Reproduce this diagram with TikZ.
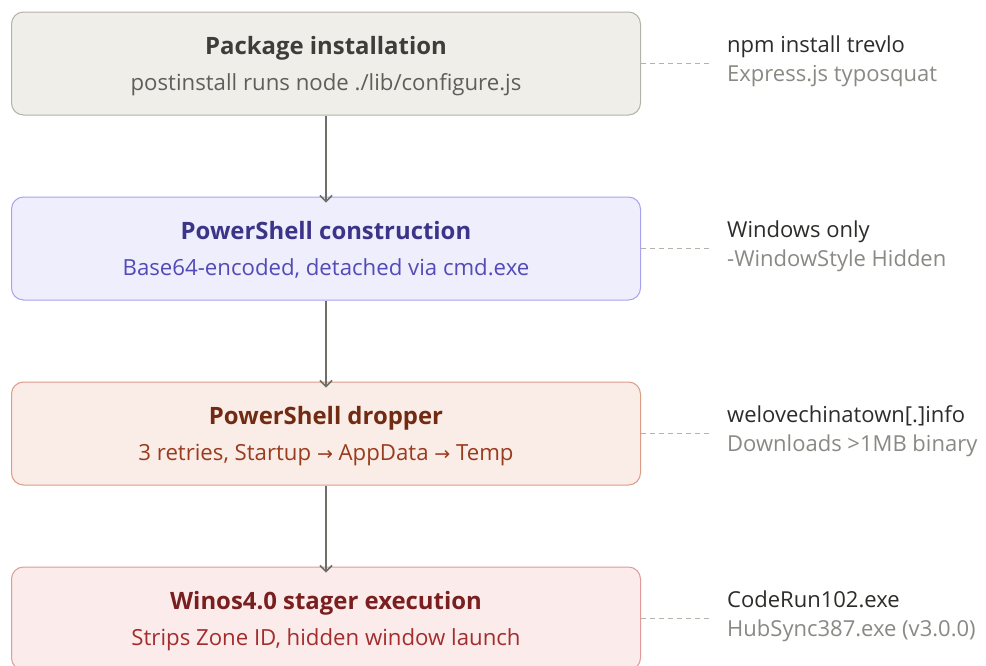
\documentclass[tikz,border=0pt]{standalone}
\usepackage{fontspec}
\setmainfont{Open Sans}
\newfontfamily\symf{DejaVu Sans}
\usetikzlibrary{arrows.meta}
\definecolor{bgA}{HTML}{F0EEE9}\definecolor{bdA}{HTML}{B4B2A9}\definecolor{tA}{HTML}{3D3D3A}\definecolor{sA}{HTML}{5F5E5A}
\definecolor{bgB}{HTML}{EEEEFC}\definecolor{bdB}{HTML}{A9A3EE}\definecolor{tB}{HTML}{3C3489}\definecolor{sB}{HTML}{534AB7}
\definecolor{bgC}{HTML}{FAECE7}\definecolor{bdC}{HTML}{DB9C88}\definecolor{tC}{HTML}{712B13}\definecolor{sC}{HTML}{993C1D}
\definecolor{bgD}{HTML}{FCEBEB}\definecolor{bdD}{HTML}{E09A9A}\definecolor{tD}{HTML}{791F1F}\definecolor{sD}{HTML}{A32D2D}
\definecolor{noteT}{HTML}{2C2C2A}\definecolor{noteS}{HTML}{8A8984}\definecolor{dashc}{HTML}{B4B2A9}\definecolor{arr}{HTML}{6F6F6A}
\newcommand{\rarr}{{\symf\fontsize{19}{20}\selectfont →}}
\tikzset{
  stagebox/.style={rectangle, rounded corners=12pt, line width=1pt, minimum width=629pt, minimum height=103pt, inner sep=0pt},
  ttl/.style={anchor=base, inner sep=0pt, font=\fontsize{23.9}{28}\selectfont\bfseries},
  sub/.style={anchor=base, inner sep=0pt, font=\fontsize{22.2}{26}\selectfont},
  noteA/.style={anchor=base west, inner sep=0pt, text=noteT, font=\fontsize{22}{26}\selectfont},
  noteB/.style={anchor=base west, inner sep=0pt, text=noteS, font=\fontsize{22}{26}\selectfont},
  flow/.style={draw=arr, line width=1.5pt, -{Straight Barb[length=6pt,width=12pt,line width=1.5pt]}},
  leader/.style={draw=dashc, line width=1pt, dash pattern=on 5pt off 4pt},
}
\begin{document}
\begin{tikzpicture}[x=1pt,y=-1pt]
\useasboundingbox[fill=white] (0,0) rectangle (986,665);
% stage boxes
\node[stagebox, fill=bgA, draw=bdA] (b1) at (326,63.5) {};
\node[stagebox, fill=bgB, draw=bdB] (b2) at (326,248.5) {};
\node[stagebox, fill=bgC, draw=bdC] (b3) at (326,433.5) {};
\node[stagebox, fill=bgD, draw=bdD] (b4) at (326,618.5) {};
% texts in boxes
\node[ttl, text=tA] (t1) at (326,54) {Package installation};
\node[sub, text=sA] (s1) at (326,90) {postinstall runs node ./lib/configure.js};
\node[ttl, text=tB] (t2) at (326,239) {PowerShell construction};
\node[sub, text=sB] (s2) at (326,275) {Base64-encoded, detached via cmd.exe};
\node[ttl, text=tC] (t3) at (326,424) {PowerShell dropper};
\node[sub, text=sC] (s3) at (326,460) {3 retries, Startup \rarr{} AppData \rarr{} Temp};
\node[ttl, text=tD] (t4) at (326,609) {Winos4.0 stager execution};
\node[sub, text=sD] (s4) at (326,645) {Strips Zone ID, hidden window launch};
% arrows
\draw[flow] (b1.south) -- ([yshift=-6pt]b2.north);
\draw[flow] (b2.south) -- ([yshift=-6pt]b3.north);
\draw[flow] (b3.south) -- ([yshift=-6pt]b4.north);
% side notes
\coordinate (e1) at (712,63.5);
\coordinate (e2) at (712,248.5);
\coordinate (e3) at (712,433.5);
\coordinate (e4) at (712,618.5);
\draw[leader] (b1.east) -- (e1);
\draw[leader] (b2.east) -- (e2);
\draw[leader] (b3.east) -- (e3);
\draw[leader] (b4.east) -- (e4);
\node[noteA] (n1a) at (727,52) {npm install trevlo};
\node[noteB] (n1b) at (727,81.5) {Express.js typosquat};
\node[noteA] (n2a) at (727,237) {Windows only};
\node[noteB] (n2b) at (727,266.5) {-WindowStyle Hidden};
\node[noteA] (n3a) at (727,422) {welovechinatown[.]info};
\node[noteB] (n3b) at (727,451.5) {Downloads >1MB binary};
\node[noteA] (n4a) at (727,607) {CodeRun102.exe};
\node[noteB] (n4b) at (727,636.5) {HubSync387.exe (v3.0.0)};
\end{tikzpicture}
\end{document}
